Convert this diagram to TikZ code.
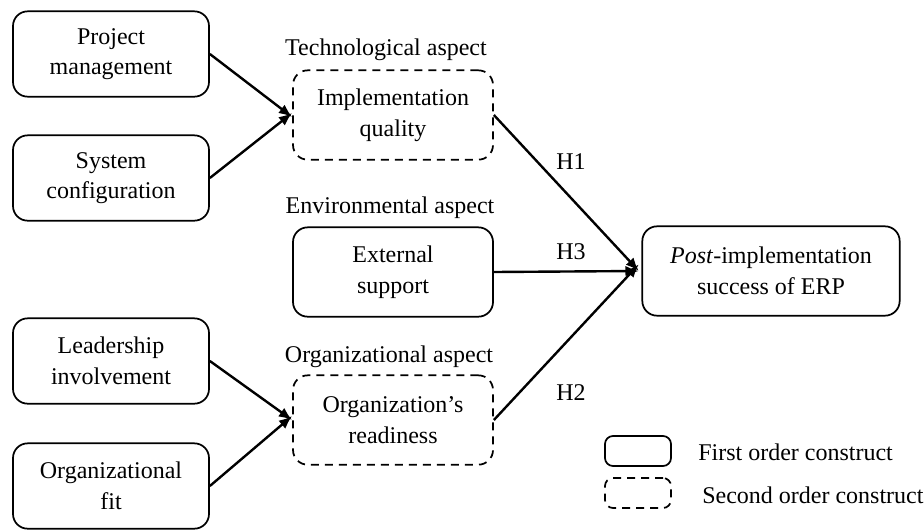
\documentclass[tikz,border=0pt]{standalone}
\usepackage{fontspec}
\setmainfont{Liberation Serif}
\usetikzlibrary{arrows.meta}

\tikzset{
  first/.style={draw, rounded corners=11pt, line width=1.3pt, align=center,
    minimum width=147pt, minimum height=64pt, inner sep=2pt},
  second/.style={first, dash pattern=on 6pt off 4.5pt, minimum width=150pt, minimum height=67pt},
  keybox/.style={draw, rounded corners=6pt, line width=1.3pt, minimum width=49.5pt, minimum height=22.5pt},
  link/.style={line width=1.8pt, -{Latex[length=10pt,width=8pt]}},
}

\begin{document}
\begin{tikzpicture}[x=0.75pt,y=0.75pt,yscale=-1,xscale=1,
  font=\fontsize{18}{23}\selectfont]
\useasboundingbox (0,0) rectangle (924,529);

% first order constructs on the left
\node[first] (pm) at (111,54) {Project\\management};
\node[first] (sc) at (111,178) {System\\configuration};
\node[first] (li) at (111,361) {Leadership\\involvement};
\node[first] (of) at (111,486) {Organizational\\fit};

% aspects
\node[second] (impl) at (393,115) {Implementation\\quality};
\node[first, minimum width=150pt, minimum height=67pt] (ext) at (393,272) {External\\support};
\node[second] (ready) at (393,420) {Organization's\\readiness};

\node (tech) at (386,50) {Technological aspect};
\node (env) at (390,208) {Environmental aspect};
\node (org) at (389,357) {Organizational aspect};

% outcome
\node[first, minimum width=193pt, minimum height=67pt] (post) at (771,271) {\textit{Post}-implementation\\success of ERP};

% paths
\draw[link] (pm.east) -- ([yshift=1.5pt]impl.west);
\draw[link] (sc.east) -- ([yshift=-1.5pt]impl.west);
\draw[link] (li.east) -- ([yshift=0pt]ready.west);
\draw[link] (of.east) -- ([yshift=-3pt]ready.west);
\draw[link] (impl.east) -- ([yshift=0pt,xshift=-2pt]post.west);
\draw[link] (ext.east) -- ([xshift=-2pt]post.west);
\draw[link] (ready.east) -- ([yshift=-5pt,xshift=-2pt]post.west);

\node (h1) at (571,162) {H1};
\node (h3) at (571,252) {H3};
\node (h2) at (571,393) {H2};

% legend
\node[keybox] (k1) at (638,451) {};
\node[keybox, dash pattern=on 6pt off 4.5pt] (k2) at (638,493) {};
\node[anchor=west, inner sep=0pt] (k1t) at (698,452) {First order construct};
\node[anchor=west, inner sep=0pt] (k2t) at (702,495) {Second order construct};
\end{tikzpicture}
\end{document}
